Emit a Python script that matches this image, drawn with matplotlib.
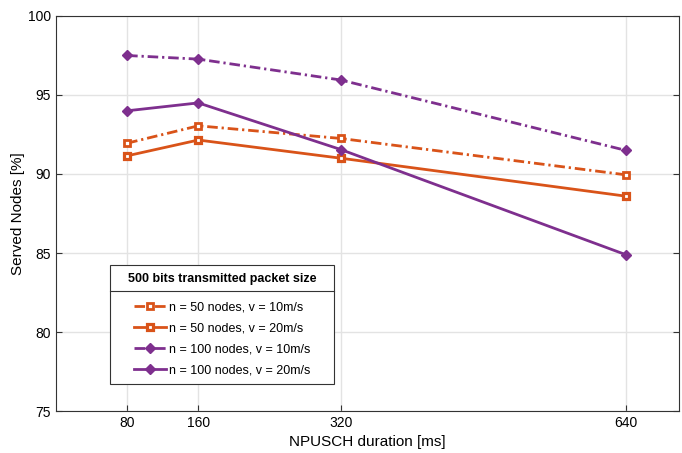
import matplotlib
matplotlib.use('Agg')
import matplotlib.pyplot as plt
from matplotlib.lines import Line2D

plt.rcParams['font.family'] = ['Liberation Sans', 'DejaVu Sans']

durations = [80, 160, 320, 640]
served_n50_v10 = [91.95, 93.05, 92.25, 89.95]
served_n50_v20 = [91.15, 92.15, 91.0, 88.6]
served_n100_v10 = [97.5, 97.27, 95.95, 91.5]
served_n100_v20 = [94.0, 94.5, 91.55, 84.9]

orange = '#D95319'
purple = '#7E2F8E'
dashdot = (0, (3.8, 1.4, 0.8, 1.4))

fig = plt.figure(figsize=(6.82, 4.53), dpi=100)
ax = fig.add_axes([0.082, 0.0927, 0.9135, 0.872])

ax.plot(durations, served_n50_v10, ls=dashdot, color=orange, lw=2, marker='s', ms=4,
        mfc='white', mec=orange, mew=2, label='n = 50 nodes, v = 10m/s')
ax.plot(durations, served_n50_v20, '-', color=orange, lw=2, marker='s', ms=4,
        mfc='white', mec=orange, mew=2.3, label='n = 50 nodes, v = 20m/s')
ax.plot(durations, served_n100_v10, ls=dashdot, color=purple, lw=2, marker='D', ms=5,
        mfc=purple, mec=purple, label='n = 100 nodes, v = 10m/s')
ax.plot(durations, served_n100_v20, '-', color=purple, lw=2, marker='D', ms=5,
        mfc=purple, mec=purple, label='n = 100 nodes, v = 20m/s')

ax.set_xlim(0, 700)
ax.set_ylim(75, 100)
ax.set_xticks(durations)
ax.set_yticks([75, 80, 85, 90, 95, 100])
ax.tick_params(direction='in', right=True, top=False, labelsize=10, length=4, color='#333333')
ax.grid(True, color='#e3e3e3', lw=1)
ax.set_axisbelow(True)
for s in ax.spines.values():
    s.set_color('#333333')
    s.set_linewidth(0.8)
ax.set_xlabel('NPUSCH duration [ms]', fontsize=11)
ax.set_ylabel('Served Nodes [%]', fontsize=11, labelpad=2)

leg = ax.legend(loc='lower left', bbox_to_anchor=(0.0867, 0.068, 0.36, 0.3), mode='expand',
                borderaxespad=0,
                title='500 bits transmitted packet size', fontsize=9,
                fancybox=False, edgecolor='#333333', framealpha=1,
                handlelength=2.6, handletextpad=0.2, labelspacing=0.72,
                borderpad=0.6)
leg.get_title().set_fontweight('bold')
leg.get_title().set_fontsize(9)
leg.get_frame().set_linewidth(0.8)
leg._legend_box.sep = 12
leg._legend_handle_box.mode = 'fixed'

fig.canvas.draw()
fb = leg.get_window_extent()
tb = leg.get_title().get_window_extent()
ysep = tb.y0 - 6
inv = fig.transFigure.inverted()
(x0, y0), (x1, _) = inv.transform([(fb.x0, ysep), (fb.x1, ysep)])
fig.add_artist(Line2D([x0, x1], [y0, y0], color='#333333', lw=0.8, zorder=10))

fig.savefig('out.png', dpi=100)
